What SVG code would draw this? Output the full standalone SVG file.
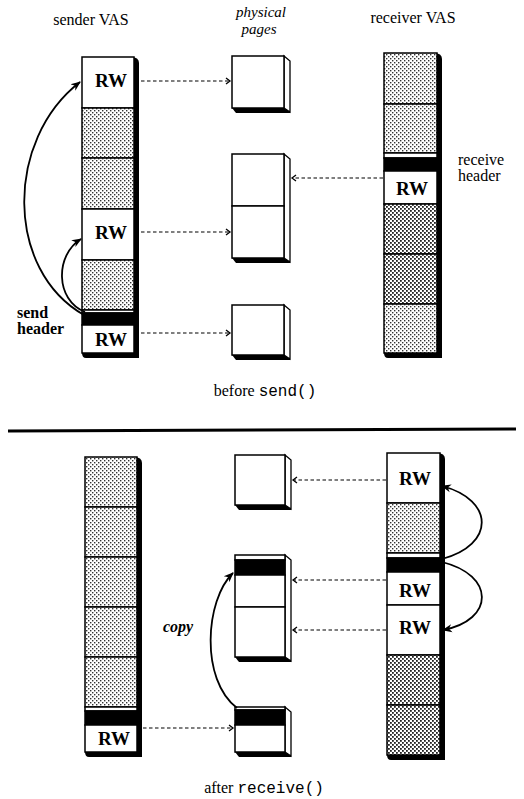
<svg xmlns="http://www.w3.org/2000/svg" width="524" height="799" viewBox="0 0 524 799">
<style>
.cell{stroke:#000;stroke-width:1.5}
.w{fill:#fff}
.s{fill:url(#dots)}
.d{fill:url(#dots2)}
.b{fill:#000}
.sh{fill:#000}
.side{fill:#fff;stroke:#000;stroke-width:1.3}
.rw{font-family:"Liberation Serif",serif;font-weight:bold;font-size:19px;text-anchor:middle}
.lbl{font-family:"Liberation Serif",serif;font-size:16px}
.it{font-family:"Liberation Serif",serif;font-style:italic;font-size:15px;text-anchor:middle}
.mono{font-family:"Liberation Mono",monospace}
.dash{stroke:#000;stroke-width:1.2;stroke-dasharray:3.5 2.5;fill:none;marker-end:url(#open)}
.curve{stroke:#000;stroke-width:1.8;fill:none;marker-end:url(#solid)}
</style>
<defs>
<pattern id="dots" width="4" height="4" patternUnits="userSpaceOnUse"><rect width="4" height="4" fill="#fff"/><rect width="1.4" height="1.4" fill="#333"/><rect x="2" y="2" width="1.4" height="1.4" fill="#333"/></pattern>
<pattern id="dots2" width="4" height="4" patternUnits="userSpaceOnUse"><rect width="4" height="4" fill="#fff"/><rect width="1.8" height="1.8" fill="#222"/><rect x="2" y="2" width="1.8" height="1.8" fill="#222"/></pattern>
<marker id="open" markerWidth="8" markerHeight="8" refX="5" refY="4" orient="auto" markerUnits="userSpaceOnUse"><path d="M1,1 L5,4 L1,7" fill="none" stroke="#000" stroke-width="1.3"/></marker>
<marker id="solid" markerWidth="12" markerHeight="12" refX="9" refY="5" orient="auto" markerUnits="userSpaceOnUse"><path d="M0,1 L10,5 L0,9 L3,5 Z" fill="#000"/></marker>
</defs>

<!-- titles -->
<g id="title-sender"><text class="lbl" x="91" y="25" text-anchor="middle">sender VAS</text></g>
<g id="title-physical"><text class="it" x="261" y="17">physical</text><text class="it" x="259" y="34">pages</text></g>
<g id="title-receiver"><text class="lbl" x="413" y="23" text-anchor="middle">receiver VAS</text></g>

<!-- top sender VAS -->
<g id="sender-top">
<path class="sh" d="M131,57 Q139,57 139,63 L139,358 L86,358 Q82,358 82,353 Z"/>
<rect class="cell w" x="82" y="57" width="52" height="51"/>
<rect class="cell s" x="82" y="108" width="52" height="50"/>
<rect class="cell s" x="82" y="158" width="52" height="51"/>
<rect class="cell w" x="82" y="209" width="52" height="51"/>
<rect class="cell s" x="82" y="260" width="52" height="50"/>
<rect class="cell w" x="82" y="310" width="52" height="3"/>
<rect class="cell b" x="82" y="313" width="52" height="12"/>
<rect class="cell w" x="82" y="325" width="52" height="28"/>
<text class="rw" x="111" y="87">RW</text>
<text class="rw" x="111" y="239">RW</text>
<text class="rw" x="111" y="346">RW</text>
</g>
<g id="send-header"><text class="lbl" x="17" y="318" font-weight="bold">send</text><text class="lbl" x="17" y="334" font-weight="bold">header</text></g>

<!-- top physical pages -->
<g id="page-top-1">
<polygon class="side" points="284,56 290,61 290,112 284,108"/>
<polygon class="sh" points="232,108 284,108 290,112 290,113 236,113"/>
<rect class="cell w" x="232" y="56" width="52" height="52"/>
</g>
<g id="page-top-2">
<polygon class="side" points="284,154 290,159 290,262 284,258"/>
<polygon class="sh" points="232,258 284,258 290,262 290,263 236,263"/>
<rect class="cell w" x="232" y="154" width="52" height="52"/>
<rect class="cell w" x="232" y="206" width="52" height="52"/>
</g>
<g id="page-top-3">
<polygon class="side" points="284,305 290,310 290,359 284,355"/>
<polygon class="sh" points="232,355 284,355 290,359 290,360 236,360"/>
<rect class="cell w" x="232" y="305" width="52" height="50"/>
</g>

<!-- top receiver VAS -->
<g id="receiver-top">
<path class="sh" d="M434,53 Q442,53 442,59 L442,358 L388,358 Q384,358 384,353 Z"/>
<rect class="cell s" x="384" y="53" width="53" height="51"/>
<rect class="cell s" x="384" y="104" width="53" height="49"/>
<rect class="cell w" x="384" y="153" width="53" height="5"/>
<rect class="cell b" x="384" y="158" width="53" height="13"/>
<rect class="cell w" x="384" y="171" width="53" height="33"/>
<rect class="cell d" x="384" y="204" width="53" height="50"/>
<rect class="cell d" x="384" y="254" width="53" height="50"/>
<rect class="cell s" x="384" y="304" width="53" height="49"/>
<text class="rw" x="412" y="195">RW</text>
</g>
<g id="receive-header"><text class="lbl" x="458" y="165">receive</text><text class="lbl" x="458" y="181">header</text></g>

<g id="caption-before"><text class="lbl" x="265" y="396" text-anchor="middle">before <tspan class="mono">send()</tspan></text></g>

<g id="divider"><line x1="8" y1="431" x2="516" y2="429" stroke="#000" stroke-width="3"/></g>

<!-- bottom sender VAS -->
<g id="sender-bottom">
<path class="sh" d="M134,457 Q142,457 142,463 L142,757 L89,757 Q85,757 85,752 Z"/>
<rect class="cell s" x="85" y="457" width="52" height="50"/>
<rect class="cell s" x="85" y="507" width="52" height="50"/>
<rect class="cell s" x="85" y="557" width="52" height="50"/>
<rect class="cell s" x="85" y="607" width="52" height="50"/>
<rect class="cell s" x="85" y="657" width="52" height="50"/>
<rect class="cell w" x="85" y="707" width="52" height="4"/>
<rect class="cell b" x="85" y="711" width="52" height="14"/>
<rect class="cell w" x="85" y="725" width="52" height="27"/>
<text class="rw" x="114" y="745">RW</text>
</g>

<!-- bottom physical pages -->
<g id="page-bot-1">
<polygon class="side" points="285,455 291,460 291,509 285,505"/>
<polygon class="sh" points="235,505 285,505 291,509 291,510 239,510"/>
<rect class="cell w" x="235" y="455" width="50" height="50"/>
</g>
<g id="page-bot-2">
<polygon class="side" points="285,555 291,560 291,661 285,657"/>
<polygon class="sh" points="235,657 285,657 291,661 291,662 239,662"/>
<rect class="cell w" x="235" y="555" width="50" height="5"/>
<rect class="cell b" x="235" y="560" width="50" height="15"/>
<rect class="cell w" x="235" y="575" width="50" height="32"/>
<rect class="cell w" x="235" y="607" width="50" height="50"/>
</g>
<g id="page-bot-3">
<polygon class="side" points="285,707 291,712 291,756 285,752"/>
<polygon class="sh" points="235,752 285,752 291,756 291,757 239,757"/>
<rect class="cell w" x="235" y="707" width="50" height="3"/>
<rect class="cell b" x="235" y="710" width="50" height="15"/>
<rect class="cell w" x="235" y="725" width="50" height="27"/>
</g>

<!-- bottom receiver VAS -->
<g id="receiver-bottom">
<path class="sh" d="M437,453 Q445,453 445,459 L445,760 L391,760 Q387,760 387,755 Z"/>
<rect class="cell w" x="387" y="453" width="53" height="50"/>
<rect class="cell s" x="387" y="503" width="53" height="50"/>
<rect class="cell w" x="387" y="553" width="53" height="5"/>
<rect class="cell b" x="387" y="558" width="53" height="14"/>
<rect class="cell w" x="387" y="572" width="53" height="33"/>
<rect class="cell w" x="387" y="605" width="53" height="50"/>
<rect class="cell d" x="387" y="655" width="53" height="50"/>
<rect class="cell d" x="387" y="705" width="53" height="50"/>
<text class="rw" x="415" y="485">RW</text>
<text class="rw" x="415" y="597">RW</text>
<text class="rw" x="415" y="634">RW</text>
</g>

<g id="copy-label"><text class="lbl" x="163" y="632" font-style="italic" font-weight="bold">copy</text></g>
<g id="caption-after"><text class="lbl" x="264" y="793" text-anchor="middle">after <tspan class="mono">receive()</tspan></text></g>

<!-- connectors -->
<g id="connectors">
<path class="dash" d="M141,81 L230,81"/>
<path class="dash" d="M141,232 L230,232"/>
<path class="dash" d="M141,333 L230,333"/>
<path class="dash" d="M383,178 L292,178"/>
<path class="dash" d="M386,480 L293,480"/>
<path class="dash" d="M386,580 L293,580"/>
<path class="dash" d="M386,630 L293,630"/>
<path class="dash" d="M143,728 L233,728"/>
<path class="curve" d="M84,315 C5,270 5,140 80,82"/>
<path class="curve" d="M85,312 C55,300 55,255 81,239"/>
<path class="curve" d="M237,708 C200,680 205,600 233,573"/>
<path class="curve" d="M442,559 C495,545 495,500 442,486"/>
<path class="curve" d="M442,562 C495,575 495,620 443,630"/>
</g>
</svg>
